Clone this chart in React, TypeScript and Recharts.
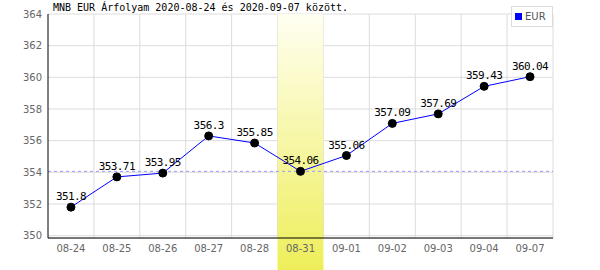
import React from "react";
import { LineChart, Line, CartesianGrid, XAxis, YAxis, ReferenceLine, ReferenceArea, LabelList } from "recharts";

const dates = ["08-24", "08-25", "08-26", "08-27", "08-28", "08-31", "09-01", "09-02", "09-03", "09-04", "09-07"];
const rates = [351.8, 353.71, 353.95, 356.3, 355.85, 354.06, 355.06, 357.09, 357.69, 359.43, 360.04];
const yTicks = [350, 352, 354, 356, 358, 360, 362, 364];
const highlightDate = "08-31";
const refRate = 354.06;

const data = dates.map((d, i) => ({ date: d, eur: rates[i] }));

const W = 600;
const H = 270;
const mono = "'DejaVu Sans Mono', monospace";
const sans = "'DejaVu Sans', sans-serif";

function HighlightShape(props: any) {
  const { x, y, width } = props;
  if (x == null || y == null) return null;
  return <rect x={x} y={y} width={width} height={H - y} fill="url(#hl)" />;
}

export default function App() {
  return (
    <div style={{ position: "absolute", left: 0, top: 0, width: W, height: H, background: "#fff" }}>
      <LineChart width={W} height={H} data={data} margin={{ top: 14, right: 47, bottom: 12, left: 8 }}>
        <defs>
          <linearGradient id="hl" x1="0" y1="0" x2="0" y2="1">
            <stop offset="0%" stopColor="#fffff2" />
            <stop offset="100%" stopColor="#eeee5a" />
          </linearGradient>
        </defs>
        <CartesianGrid
          stroke="#dcdcdc"
          verticalCoordinatesGenerator={({ offset }: any) =>
            dates.map((_, i) => offset.left + ((i + 1) * offset.width) / dates.length)
          }
        />
        <XAxis
          dataKey="date"
          scale="band"
          axisLine={false}
          tickLine={false}
          tickSize={5}
          tickMargin={2}
          height={20}
          tick={{ fill: "#666", fontSize: 10, fontFamily: sans }}
        />
        <YAxis
          domain={[349.85, 364]}
          ticks={yTicks}
          width={40}
          axisLine={{ stroke: "#000" }}
          tickLine={false}
          tickSize={4}
          tickMargin={2}
          tick={{ fill: "#666", fontSize: 10, fontFamily: sans }}
        />
        <ReferenceLine y={349.85} stroke="#000" />
        <ReferenceLine y={refRate} stroke="#9999ff" strokeDasharray="3 3" />
        <ReferenceArea x1={highlightDate} x2={highlightDate} shape={<HighlightShape />} />
        <Line
          type="linear"
          dataKey="eur"
          stroke="#0000ff"
          strokeWidth={1}
          dot={{ r: 4, fill: "#000", stroke: "#000", strokeWidth: 1 }}
          isAnimationActive={false}
        >
          <LabelList
            dataKey="eur"
            position="top"
            offset={7}
            fill="#000"
            fontSize={11}
            fontFamily={mono}
            style={{ letterSpacing: "-0.6px" }}
          />
        </Line>
      </LineChart>
      <div
        style={{
          position: "absolute",
          left: 53,
          top: 3,
          fontFamily: mono,
          fontSize: 10,
          lineHeight: "10px",
          color: "#000",
          whiteSpace: "nowrap",
        }}
      >
        MNB EUR Árfolyam 2020-08-24 és 2020-09-07 között.
      </div>
      <div
        style={{
          position: "absolute",
          left: 511,
          top: 6,
          width: 42,
          height: 21,
          background: "#fff",
          border: "1px solid #dcdcdc",
          boxSizing: "border-box",
          display: "flex",
          alignItems: "center",
          fontFamily: sans,
          fontSize: 10,
          color: "#555",
        }}
      >
        <span style={{ display: "inline-block", width: 7, height: 7, background: "#0000ff", marginLeft: 3, marginRight: 3 }} />
        EUR
      </div>
    </div>
  );
}
